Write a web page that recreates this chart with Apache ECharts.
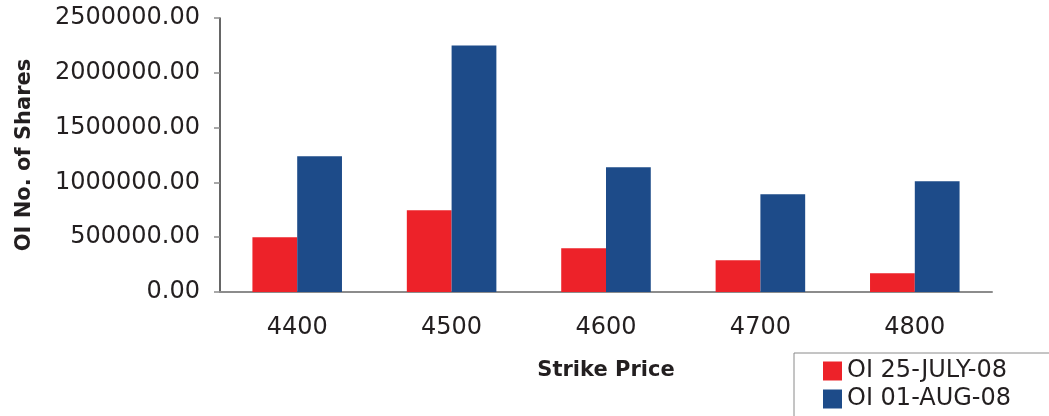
<!DOCTYPE html>
<html>
<head>
<meta charset="utf-8">
<script src="https://cdn.jsdelivr.net/npm/echarts@6/dist/echarts.min.js"></script>
<style>
  html, body { margin: 0; padding: 0; background: #fff; }
  #demo { width: 1049px; height: 416px; }
</style>
</head>
<body>
<div id="demo"></div>
<script>
// 数据
var strikes = ['4400', '4500', '4600', '4700', '4800'];
var oiJuly = [500000, 745000, 400000, 290000, 170000];
var oiAug = [1238000, 2250000, 1138000, 892000, 1010000];
var seriesNames = ['OI 25-JULY-08', 'OI 01-AUG-08'];

var textColor = '#231f20';
var myChart = echarts.init(document.getElementById('demo'));

var option = {
    animation: false,
    color: ['#ED2229', '#1D4B89'],
    grid: {
        left: 220,
        right: 57,
        top: 18,
        bottom: 124
    },
    legend: {
        data: seriesNames,
        orient: 'vertical',
        left: 794,
        top: 353,
        height: 120,
        padding: [6, 60, 10, 29],
        itemWidth: 19,
        itemHeight: 19,
        itemGap: 4,
        borderColor: '#8a8a8a',
        borderWidth: 1,
        icon: 'rect',
        textStyle: {
            color: textColor,
            fontFamily: 'DejaVu Sans',
            fontSize: 24
        }
    },
    xAxis: {
        type: 'category',
        data: strikes,
        name: 'Strike Price',
        nameLocation: 'middle',
        nameGap: 68,
        nameTextStyle: {
            color: textColor,
            fontFamily: 'DejaVu Sans',
            fontWeight: 'bold',
            fontSize: 21
        },
        axisLine: {
            lineStyle: { color: '#8c8c8c', width: 2 }
        },
        axisTick: {
            length: 7,
            lineStyle: { color: '#333', width: 1.5 }
        },
        axisLabel: {
            color: textColor,
            fontFamily: 'DejaVu Sans',
            fontSize: 24,
            margin: 24
        }
    },
    yAxis: {
        type: 'value',
        min: 0,
        max: 2500000,
        interval: 500000,
        name: 'OI No. of Shares',
        nameLocation: 'middle',
        nameGap: 185,
        nameTextStyle: {
            color: textColor,
            fontFamily: 'DejaVu Sans',
            fontWeight: 'bold',
            fontSize: 21
        },
        axisLine: {
            show: true,
            lineStyle: { color: '#333', width: 1.5 }
        },
        axisTick: {
            show: true,
            length: 6,
            lineStyle: { color: '#8c8c8c', width: 1.5 }
        },
        splitLine: { show: false },
        axisLabel: {
            color: textColor,
            fontFamily: 'DejaVu Sans',
            fontSize: 24,
            margin: 20,
            formatter: function (v) {
                return v.toFixed(2);
            }
        }
    },
    series: [
        {
            name: seriesNames[0],
            type: 'bar',
            data: oiJuly,
            barGap: '0%',
            barCategoryGap: '42%'
        },
        {
            name: seriesNames[1],
            type: 'bar',
            data: oiAug,
            barGap: '0%',
            barCategoryGap: '42%'
        }
    ]
};

myChart.setOption(option);
</script>
</body>
</html>
